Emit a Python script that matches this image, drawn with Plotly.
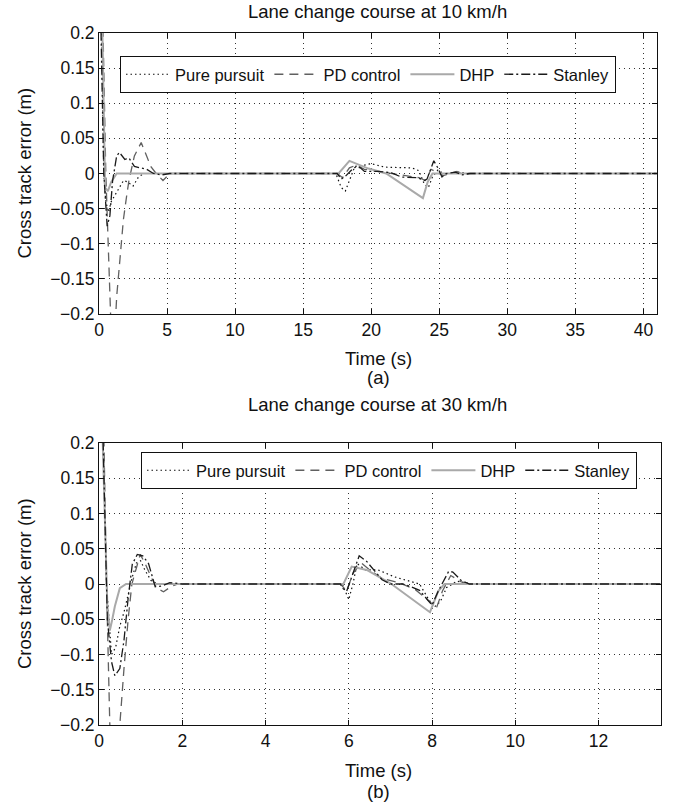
import plotly.graph_objects as go

W, H = 676, 805

# ---------------- data : panel (a) 10 km/h ----------------
t_pp_a = [0, 0.2, 0.35, 0.5, 0.7, 0.9, 1.2, 1.5, 1.8, 2.1, 2.5, 2.9, 3.3, 17.4, 17.8, 18.1, 18.4, 18.8,
          19.5, 20.0, 21.0, 22.0, 23.0, 23.5, 23.9, 24.2, 24.5, 24.9, 25.3, 26.0, 26.5, 27.0, 41]
pp_a = [0.25, 0.2, 0.0, -0.04, -0.055, -0.04, -0.03, -0.02, -0.01, -0.012, -0.018, -0.005, 0, 0, -0.02,
        -0.025, -0.01, 0.01, 0.012, 0.014, 0.009, 0.009, 0.008, 0.004, -0.015, -0.02, -0.005, 0.005, 0,
        0, 0.002, 0, 0]

t_pd_a = [0, 0.3, 0.5, 0.7, 0.85, 1.05, 1.3, 1.54, 1.79, 2.03, 2.2, 2.6, 3.1, 3.5, 3.8, 4.2, 4.7, 5.2,
          17.5, 17.9, 18.4, 18.9, 19.5, 20.5, 21.5, 22.5, 23.5, 24.0, 24.4, 24.8, 25.3, 26.3, 26.8, 27.3, 41]
pd_a = [0.25, 0.2, 0.0, -0.11, -0.2, -0.27, -0.175, -0.122, -0.066, -0.032, -0.01, 0.025, 0.044, 0.025,
        0.01, 0, -0.01, 0, 0, -0.006, 0.008, 0.012, 0.006, 0.003, 0.0, -0.003, -0.006, -0.01, 0.006,
        0.002, -0.003, 0.003, -0.002, 0, 0]

t_dhp_a = [0, 0.25, 0.45, 0.65, 0.9, 1.3, 17.6, 18.4, 19.8, 21.1, 23.8, 24.15, 24.5, 41]
dhp_a = [0.25, 0.2, -0.02, -0.025, -0.012, 0, 0, 0.018, 0.007, 0, -0.035, -0.012, 0, 0]

t_st_a = [0, 0.15, 0.35, 0.6, 0.8, 1.0, 1.3, 1.5, 1.9, 2.2, 2.6, 3.0, 3.5, 4.0, 4.6, 5.2, 17.5, 17.8,
          18.1, 18.5, 18.9, 19.2, 19.5, 20.5, 21.5, 22.2, 22.8, 23.4, 23.9, 24.1, 24.6, 24.9, 25.2,
          25.5, 26.2, 26.7, 27.2, 41]
st_a = [0.25, 0.2, 0.0, -0.075, -0.06, -0.01, 0.025, 0.03, 0.02, 0.022, 0.01, 0.008, 0.006, 0.0, -0.002,
        0, 0, -0.008, -0.004, 0.004, 0.01, 0.008, 0.003, 0.003, 0.001, -0.005, -0.005, -0.006, -0.01,
        -0.008, 0.018, 0.008, -0.005, 0, 0.002, -0.002, 0, 0]

# ---------------- data : panel (b) 30 km/h ----------------
t_pp_b = [0, 0.1, 0.18, 0.25, 0.3, 0.4, 0.5, 0.6, 0.7, 0.8, 0.9, 1.0, 1.1, 1.25, 1.4, 5.85, 5.9, 6.0,
          6.1, 6.2, 6.4, 6.7, 7.1, 7.4, 7.7, 7.9, 8.05, 8.2, 8.35, 8.6, 8.9, 13.5]
pp_b = [0.25, 0.2, 0.0, -0.06, -0.1, -0.09, -0.06, -0.04, -0.015, 0.01, 0.03, 0.033, 0.02, 0.005, 0, 0,
        -0.008, -0.022, 0.0, 0.029, 0.02, 0.02, 0.01, 0.005, 0.0, -0.02, -0.033, -0.025, -0.005, 0.004,
        0, 0]

t_pd_b = [0, 0.12, 0.18, 0.26, 0.38, 0.5, 0.6, 0.7, 0.79, 0.99, 1.1, 1.25, 1.39, 1.55, 1.75, 1.9, 5.8,
          5.95, 6.1, 6.3, 6.5, 6.8, 7.2, 7.6, 7.95, 8.1, 8.25, 8.45, 8.7, 9.0, 13.5]
pd_b = [0.25, 0.2, 0.0, -0.2, -0.28, -0.2, -0.12, -0.05, 0, 0.042, 0.03, 0.01, -0.006, -0.011, -0.003, 0,
        0, -0.01, 0.015, 0.03, 0.02, 0.008, 0.002, -0.008, -0.025, -0.035, -0.01, 0.012, 0.003, 0, 0]

t_dhp_b = [0, 0.09, 0.2, 0.26, 0.32, 0.38, 0.5, 0.65, 5.87, 6.07, 6.43, 7.0, 7.95, 8.15, 8.3, 13.5]
dhp_b = [0.25, 0.2, -0.03, -0.066, -0.05, -0.032, -0.006, 0, 0, 0.0247, 0.02, 0.001, -0.04, -0.01, 0, 0]

t_st_b = [0, 0.1, 0.2, 0.3, 0.38, 0.5, 0.6, 0.7, 0.8, 0.92, 1.05, 1.19, 1.35, 1.5, 1.7, 2.0, 5.8, 5.85,
          5.95, 6.1, 6.25, 6.43, 6.7, 6.8, 7.0, 7.3, 7.5, 7.7, 7.9, 8.0, 8.15, 8.4, 8.5, 8.7, 8.9, 13.5]
st_b = [0.25, 0.2, -0.05, -0.11, -0.13, -0.12, -0.08, -0.02, 0.028, 0.042, 0.04, 0.029, -0.004, -0.003,
        0.002, 0, 0, -0.006, -0.01, 0.015, 0.04, 0.032, 0.013, 0.006, 0.0, 0, -0.004, -0.009, -0.023,
        -0.03, -0.01, 0.018, 0.017, 0.005, 0, 0]

# ---------------- ticks / labels ----------------
x_ticks_a = [0, 5, 10, 15, 20, 25, 30, 35, 40]
x_ticks_b = [0, 2, 4, 6, 8, 10, 12]
y_ticks = [0.2, 0.15, 0.1, 0.05, 0, -0.05, -0.1, -0.15, -0.2]
y_ticklabels = ["0.2", "0.15", "0.1", "0.05", "0", "\u22120.05", "\u22120.1", "\u22120.15", "\u22120.2"]
series_names = ["Pure pursuit", "PD control", "DHP", "Stanley"]
titles = ["Lane change course at 10 km/h", "Lane change course at 30 km/h"]
x_title = "Time (s)"
y_title = "Cross track error (m)"
panel_labels = ["(a)", "(b)"]

FONT = "Liberation Sans, Arial, Helvetica, sans-serif"
styles = [
    dict(color="#111111", width=1.2, dash="1.5px,3px"),
    dict(color="#606060", width=1.3, dash="9px,6px"),
    dict(color="#a9a9a9", width=2.0, dash="solid"),
    dict(color="#1a1a1a", width=1.3, dash="9px,3px,2px,3px"),
]

fig = go.Figure()
panel_a = [(t_pp_a, pp_a), (t_pd_a, pd_a), (t_dhp_a, dhp_a), (t_st_a, st_a)]
panel_b = [(t_pp_b, pp_b), (t_pd_b, pd_b), (t_dhp_b, dhp_b), (t_st_b, st_b)]
for i, (t, y) in enumerate(panel_a):
    fig.add_trace(go.Scatter(x=t, y=y, mode="lines", name=series_names[i], line=styles[i],
                             xaxis="x", yaxis="y", legend="legend"))
for i, (t, y) in enumerate(panel_b):
    fig.add_trace(go.Scatter(x=t, y=y, mode="lines", name=series_names[i], line=styles[i],
                             xaxis="x2", yaxis="y2", legend="legend2"))


def px(x):
    return x / W


def py(y):
    return 1 - y / H


TICK = 17.5
LAB = 18.5
LEG = 16.5

axis_common = dict(
    showline=True, linecolor="#111111", linewidth=1, mirror="ticks",
    ticks="inside", ticklen=5, tickcolor="#111111", tickwidth=1,
    showgrid=True, gridcolor="#333333", gridwidth=1, griddash="1px,4px",
    zeroline=False, tickfont=dict(family=FONT, size=TICK, color="#111111"),
    automargin=False,
)

fig.update_layout(
    width=W, height=H,
    margin=dict(l=0, r=0, t=0, b=0),
    paper_bgcolor="white", plot_bgcolor="white",
    font=dict(family=FONT, size=TICK, color="#111111"),
    showlegend=True,
    xaxis=dict(domain=[px(99), px(657)], range=[0, 41], tickvals=x_ticks_a, anchor="y", **axis_common),
    yaxis=dict(domain=[py(314), py(33)], range=[-0.2, 0.2], tickvals=y_ticks, ticktext=y_ticklabels,
               anchor="x", **axis_common),
    xaxis2=dict(domain=[px(99), px(661)], range=[0, 13.5], tickvals=x_ticks_b, anchor="y2", **axis_common),
    yaxis2=dict(domain=[py(725), py(443)], range=[-0.2, 0.2], tickvals=y_ticks, ticktext=y_ticklabels,
                anchor="x2", **axis_common),
    legend=dict(orientation="h", x=px(120), y=py(56), xanchor="left", yanchor="top",
                bordercolor="#111111", borderwidth=1, bgcolor="white", itemwidth=44,
                font=dict(family=FONT, size=LEG, color="#111111")),
    legend2=dict(orientation="h", x=px(141), y=py(452), xanchor="left", yanchor="top",
                 bordercolor="#111111", borderwidth=1, bgcolor="white", itemwidth=44,
                 font=dict(family=FONT, size=LEG, color="#111111")),
)

ann = []
for title, yt in zip(titles, [12, 405]):
    ann.append(dict(text=title, x=px(377), y=py(yt), xref="paper", yref="paper", showarrow=False,
                    xanchor="center", yanchor="middle", font=dict(family=FONT, size=LAB)))
for yt in [358, 770]:
    ann.append(dict(text=x_title, x=px(378), y=py(yt), xref="paper", yref="paper", showarrow=False,
                    xanchor="center", yanchor="middle", font=dict(family=FONT, size=LAB)))
for lab, yt in zip(panel_labels, [378, 791]):
    ann.append(dict(text=lab, x=px(378), y=py(yt), xref="paper", yref="paper", showarrow=False,
                    xanchor="center", yanchor="middle", font=dict(family=FONT, size=LAB)))
for yc in [(33 + 314) / 2, (443 + 725) / 2]:
    ann.append(dict(text=y_title, x=px(24), y=py(yc), xref="paper", yref="paper", showarrow=False,
                    textangle=-90, xanchor="center", yanchor="middle", font=dict(family=FONT, size=LAB)))
fig.update_layout(annotations=ann)

fig.write_html("out.html", config={"displayModeBar": False},
               post_script="document.body.style.margin='0px';")
